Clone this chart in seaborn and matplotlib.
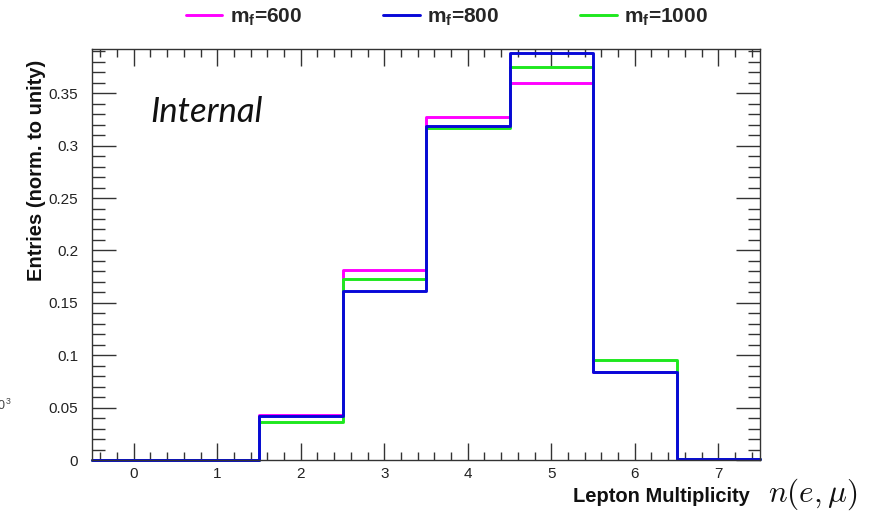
import numpy as np
import pandas as pd
import matplotlib
matplotlib.use("Agg")
import matplotlib.pyplot as plt
from matplotlib.lines import Line2D
from matplotlib.ticker import MultipleLocator
import seaborn as sns

# Lepton multiplicity distributions, normalised to unity
multiplicity = [0, 1, 2, 3, 4, 5, 6, 7]
bin_edges = [-0.5, 0.5, 1.5, 2.5, 3.5, 4.5, 5.5, 6.5, 7.5]
frac_600 = [0.0, 0.0, 0.0425, 0.1813, 0.3276, 0.3594, 0.0840, 0.0010]
frac_800 = [0.0, 0.0, 0.0423, 0.1610, 0.3185, 0.3886, 0.0843, 0.0010]
frac_1000 = [0.0, 0.0, 0.0360, 0.1724, 0.3170, 0.3753, 0.0951, 0.0010]
series_labels = ["600", "800", "1000"]
series_colors = ["#ff00ff", "#0808d8", "#1ee81e"]

x_ticks = [0, 1, 2, 3, 4, 5, 6, 7]
y_ticks = [0, 0.05, 0.1, 0.15, 0.2, 0.25, 0.3, 0.35]
y_ticklabels = ["0", "0.05", "0.1", "0.15", "0.2", "0.25", "0.3", "0.35"]

sns.set_theme(style="ticks")
plt.rcParams["font.family"] = ["Liberation Sans", "DejaVu Sans"]
plt.rcParams["mathtext.fontset"] = "custom"
plt.rcParams["mathtext.rm"] = "Liberation Sans:bold"
plt.rcParams["mathtext.it"] = "Liberation Sans:bold"
plt.rcParams["mathtext.bf"] = "Liberation Sans:bold"

df = pd.DataFrame({
    "n": multiplicity * 3,
    "frac": frac_600 + frac_800 + frac_1000,
    "mass": sum([[m] * len(multiplicity) for m in series_labels], []),
})

fig = plt.figure(figsize=(8.69, 5.13), dpi=100)
ax = fig.add_axes([0.1059, 0.1033, 0.7687, 0.8017])

# draw order: magenta, green, blue on top
for m, c in [("600", series_colors[0]), ("1000", series_colors[2]), ("800", series_colors[1])]:
    sub = df[df["mass"] == m]
    sns.histplot(data=sub, x="n", weights="frac", bins=bin_edges,
                 element="step", fill=False, color=c, linewidth=2.1,
                 ax=ax, clip_on=False)

ax.set_xlim(-0.5, 7.5)
ax.set_ylim(0, 0.3925)
ax.set_xlabel("")
ax.set_ylabel("")

ax.set_xticks(x_ticks)
ax.set_xticklabels([str(v) for v in x_ticks])
ax.set_yticks(y_ticks)
ax.set_yticklabels(y_ticklabels)
ax.xaxis.set_minor_locator(MultipleLocator(0.2))
ax.yaxis.set_minor_locator(MultipleLocator(0.01))

ax.tick_params(axis="both", which="both", direction="in", top=True, right=True,
               color="#333333", width=1.0, labelsize=11, labelcolor="#222222")
ax.tick_params(axis="x", which="major", length=12, pad=5)
ax.tick_params(axis="x", which="minor", length=6)
ax.tick_params(axis="y", which="major", length=17, pad=10)
ax.tick_params(axis="y", which="minor", length=9)
for s in ax.spines.values():
    s.set_color("#333333")
    s.set_linewidth(1.0)
    s.set_visible(True)

ax.text(0.2, 0.3225, "Internal", fontsize=25, style="italic",
        family=["Lato", "DejaVu Sans"], color="#111111", va="baseline")

# legend across the top
handles = [Line2D([], [], color=c, linewidth=2.1) for c in series_colors]
labels = [r"m$_\mathrm{f}$=" + m for m in series_labels]
fig.legend(handles, labels, ncol=3, loc="center",
           bbox_to_anchor=(447 / 869, 1 - 17 / 513), frameon=False,
           prop={"weight": "bold", "size": 15}, handlelength=1.75,
           handletextpad=0.35, columnspacing=3.9)

fig.text(37 / 869, 1 - 60 / 513, "Entries (norm. to unity)", rotation=90,
         ha="center", va="top", fontsize=14.5, fontweight="bold", color="#111111")
fig.text(750 / 869, 1 - 497 / 513, "Lepton Multiplicity", ha="right",
         va="center", fontsize=14.5, fontweight="bold", color="#111111")
fig.text(768 / 869, 1 - 494 / 513, r"$n(e,\mu)$", ha="left", va="center",
         fontsize=22.5, math_fontfamily="cm", color="#111111")
fig.text(11 / 869, 1 - 405 / 513, r"10$^\mathregular{3}$", ha="right",
         va="center", fontsize=9, color="#444444", fontweight="normal",
         math_fontfamily="dejavusans")

fig.savefig("out.png", dpi=100)
